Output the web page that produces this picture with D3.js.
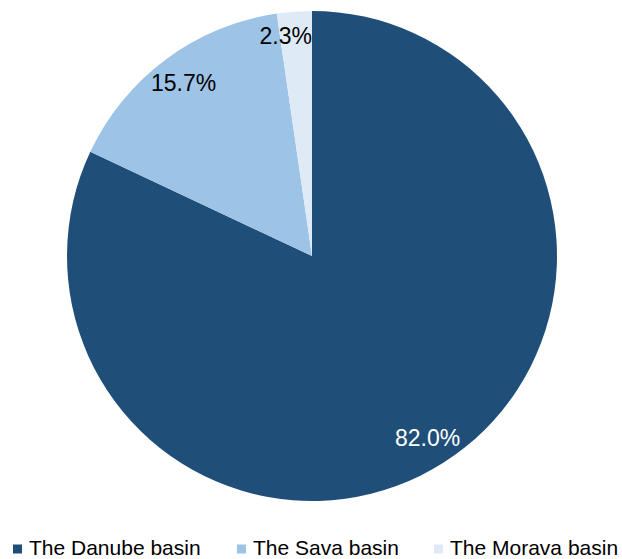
<!DOCTYPE html>
<html><head><meta charset="utf-8">
<script src="https://cdn.jsdelivr.net/npm/d3@7/dist/d3.min.js"></script>
<style>
html,body{margin:0;padding:0;background:#fff;}
svg{display:block;font-family:"Liberation Sans",Arial,sans-serif;}
</style></head>
<body>
<svg id="chart" width="622" height="559"></svg>
<script>
const categories = ["The Danube basin", "The Sava basin", "The Morava basin"];
const values = [82.0, 15.7, 2.3];
const labels = ["82.0%", "15.7%", "2.3%"];
const colors = ["#1F4E79", "#9DC3E6", "#DEEBF7"];
const labelColors = ["#ffffff", "#000000", "#000000"];

const svg = d3.select("#chart");
const cx = 312, cy = 256, r = 245;
const data = categories.map((c, i) => ({cat: c, value: values[i], label: labels[i], color: colors[i], lc: labelColors[i]}));

const pie = d3.pie().sort(null).value(d => d.value);
const arcs = pie(data);
const arc = d3.arc().innerRadius(0).outerRadius(r);
const labelArc = d3.arc().innerRadius(r * 0.88).outerRadius(r * 0.88);
const smallArc = d3.arc().innerRadius(r * 0.9).outerRadius(r * 0.9);

const g = svg.append("g").attr("transform", `translate(${cx},${cy})`);
g.selectAll("path").data(arcs).enter().append("path")
  .attr("d", arc).attr("fill", d => d.data.color);

g.selectAll("text").data(arcs).enter().append("text")
  .each(function(d) {
    const narrow = (d.endAngle - d.startAngle) < 0.3;
    const [x, y] = (narrow ? smallArc : labelArc).centroid(d);
    // narrow slices: keep label's right edge at the slice's trailing edge
    const sel = d3.select(this);
    if (narrow && d.endAngle >= 2 * Math.PI - 1e-6) {
      sel.attr("x", 0).attr("y", y).attr("text-anchor", "end");
    } else {
      sel.attr("x", x).attr("y", y).attr("text-anchor", "middle");
    }
  })
  .attr("dy", "0.36em")
  .attr("font-size", 23)
  .attr("fill", d => d.data.lc)
  .text(d => d.data.label);

// legend
const legendPos = [13, 237, 434];
const lg = svg.append("g").attr("transform", "translate(0,555)");
const items = lg.selectAll("g").data(data).enter().append("g")
  .attr("transform", (d, i) => `translate(${legendPos[i]},0)`);
items.append("rect").attr("x", 0).attr("y", -10.5).attr("width", 9).attr("height", 9)
  .attr("fill", d => d.color);
items.append("text").attr("x", 16).attr("y", 0).attr("font-size", 21).attr("fill", "#000")
  .text(d => d.cat);
</script>
</body></html>
